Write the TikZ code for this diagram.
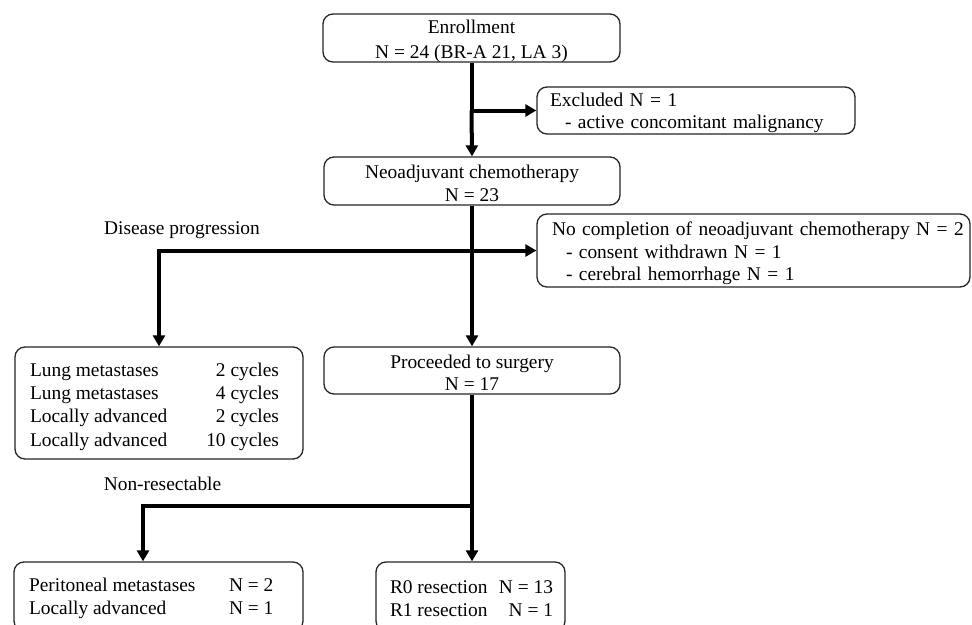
\documentclass[tikz,border=0pt]{standalone}
\usepackage{fontspec}
\setmainfont{Liberation Serif}
\usetikzlibrary{arrows.meta}
\begin{document}
\begin{tikzpicture}[x=1pt,y=-1pt,
  box/.style={draw=black!85, line width=1.3pt, rounded corners=10pt, inner sep=0pt},
  lbl/.style={inner sep=0pt, font=\fontsize{19.4}{23.5}\selectfont},
  arr/.style={line width=4pt, line join=miter, -{Triangle[length=11pt,width=12pt]}},
  arrboth/.style={line width=4pt, line join=miter, {Triangle[length=11pt,width=12pt]}-{Triangle[length=11pt,width=12pt]}}]
\clip (0,0) rectangle (972,624);
\fill[white] (0,0) rectangle (972,624);

\node[box, minimum width=297pt, minimum height=48pt,
  label={[lbl, align=center, yshift=-3.5pt, font=\fontsize{19.4}{24.5}\selectfont]center:{Enrollment\\N = 24 (BR-A 21, LA 3)}}] (enr) at (471.5,38) {};
\node[box, minimum width=318pt, minimum height=47pt,
  label={[lbl, text width=292pt, align=left, yshift=-2.4pt, font=\fontsize{19.4}{22}\selectfont]center:{Excluded N = 1\\\hspace*{15pt}- active concomitant malignancy}}] (exc) at (696,110.5) {};
\node[box, minimum width=296pt, minimum height=48pt,
  label={[lbl, align=center, yshift=-2.5pt]center:{Neoadjuvant chemotherapy\\N = 23}}] (neo) at (472,181) {};
\node[box, minimum width=433pt, minimum height=73pt,
  label={[lbl, text width=403pt, align=left, yshift=-3pt, font=\fontsize{19.4}{22.5}\selectfont]center:{\mbox{No completion of neoadjuvant chemotherapy N = 2}\\\hspace*{14pt}- consent withdrawn N = 1\\\hspace*{14pt}- cerebral hemorrhage N = 1}}] (nc) at (753.5,250.5) {};
\node[box, minimum width=288pt, minimum height=112pt,
  label={[lbl, align=left, xshift=-4.5pt, yshift=-3.5pt, font=\fontsize{19.4}{23.3}\selectfont]center:{%
   \makebox[249pt]{Lung metastases\hfill 2 cycles}\\
   \makebox[249pt]{Lung metastases\hfill 4 cycles}\\
   \makebox[249pt]{Locally advanced\hfill 2 cycles}\\
   \makebox[249pt]{Locally advanced\hfill 10 cycles}}}] (lung) at (159,403) {};
\node[box, minimum width=296pt, minimum height=47pt,
  label={[lbl, align=center, yshift=-2.5pt, font=\fontsize{19.4}{22}\selectfont]center:{Proceeded to surgery\\N = 17}}] (prc) at (472,370.5) {};
\node[box, minimum width=289pt, minimum height=69pt,
  label={[lbl, align=left, yshift=-1.9pt, font=\fontsize{19.4}{23}\selectfont]center:{%
   \makebox[259pt][l]{\makebox[200pt][l]{Peritoneal metastases}N = 2}\\
   \makebox[259pt][l]{\makebox[200pt][l]{Locally advanced}N = 1}}}] (per) at (158.5,596.5) {};
\node[box, minimum width=189pt, minimum height=69pt,
  label={[lbl, align=left, xshift=1pt, yshift=-1.9pt, font=\fontsize{19.4}{23}\selectfont]center:{%
   \makebox[163pt]{R0 resection\hfill N = 13}\\
   \makebox[163pt]{R1 resection\hfill N = 1}}}] (res) at (470.5,596.5) {};

\node[lbl] (dpl) at (182,230) {Disease progression};
\node[lbl] (nrl) at (162.5,484) {Non-resectable};

\coordinate (ex) at (enr.south |- exc.west);
\coordinate (dp) at (lung.north |- nc.west);
\coordinate (nr) at (prc.south |- 0,506);
\coordinate (nrc) at (143,506);
\coordinate (pt) at (nrc |- per.north);

\draw[line width=4pt] (enr.south) -- (ex);
\draw[arr] (ex) -- (neo.north);
\draw[arr] (ex) -- (exc.west);
\draw[arr] (neo.south) -- (prc.north);
\draw[arrboth] (nc.west) -- (dp) -- (lung.north);
\draw[arr] (prc.south) -- (prc.south |- res.north);
\draw[arr] (nr) -- (nrc) -- (pt);
\end{tikzpicture}
\end{document}
